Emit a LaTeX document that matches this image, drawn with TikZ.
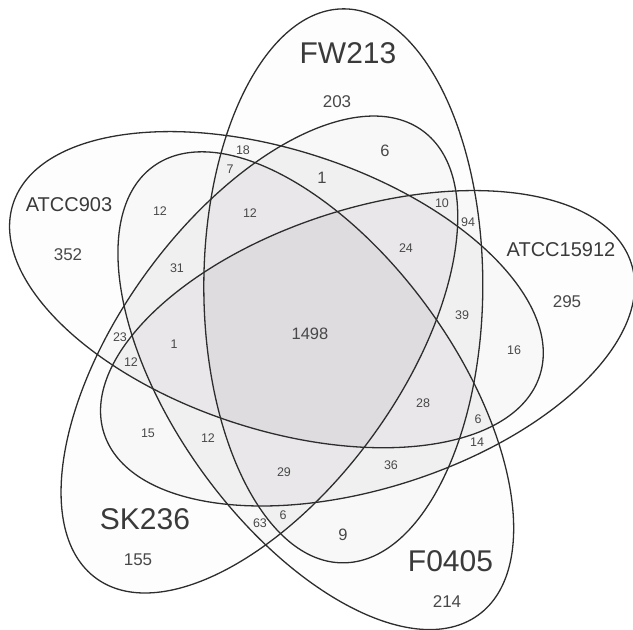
\documentclass[tikz,border=0pt]{standalone}
\usepackage{fontspec}
\setmainfont{Liberation Sans}
\definecolor{linegray}{RGB}{45,45,45}
\definecolor{namegray}{RGB}{58,58,58}
\definecolor{numgray}{RGB}{72,72,72}
\definecolor{tonegray}{RGB}{108,100,110}
% one ellipse of the five-set diagram: centre coordinate, axis angle
\newcommand{\petalclip}[2]{\clip[rotate around={#2:(#1)}] (#1) ellipse [x radius=277, y radius=139.5];}
\newcommand{\pairshade}[4]{%
  \begin{scope}
    \petalclip{#1}{#2}
    \fill[tonegray, fill opacity=0.018, rotate around={#4:(#3)}] (#3) ellipse [x radius=277, y radius=139.5];
  \end{scope}}
\begin{document}
\begin{tikzpicture}[x=1pt, y=1pt,
  outline/.style={draw=linegray, line width=1.3pt},
  single/.style={fill=tonegray, fill opacity=0.010},
  bigname/.style={text=namegray, font=\fontsize{30}{30}\selectfont, inner sep=0pt},
  midname/.style={text=namegray, font=\fontsize{20}{20}\selectfont, inner sep=0pt},
  uniq/.style={text=numgray, font=\fontsize{17}{17}\selectfont, inner sep=0pt},
  mid/.style={text=numgray, font=\fontsize{16.5}{16.5}\selectfont, inner sep=0pt},
  small/.style={text=numgray, font=\fontsize{12.5}{12.5}\selectfont, inner sep=0pt}]
\useasboundingbox (0,0) rectangle (633,630);

% centre of the five-fold arrangement and the five ellipse centres
\coordinate (O) at (312.5,296.2);
\path (O) ++(57.3:57)   coordinate (cFW);
\path (O) ++(129.3:57)  coordinate (cAtA);
\path (O) ++(-14.7:57)  coordinate (cAtB);
\path (O) ++(201.3:57)  coordinate (cSK);
\path (O) ++(273.3:57)  coordinate (cF);

% tones: light tone per set, extra tone for every overlapping pair
\fill[single, rotate around={89.9:(cFW)}]  (cFW)  ellipse [x radius=277, y radius=139.5];
\fill[single, rotate around={161.9:(cAtA)}] (cAtA) ellipse [x radius=277, y radius=139.5];
\fill[single, rotate around={17.9:(cAtB)}] (cAtB) ellipse [x radius=277, y radius=139.5];
\fill[single, rotate around={53.9:(cSK)}]  (cSK)  ellipse [x radius=277, y radius=139.5];
\fill[single, rotate around={125.9:(cF)}]  (cF)   ellipse [x radius=277, y radius=139.5];

\pairshade{cFW}{89.9}{cAtA}{161.9}
\pairshade{cFW}{89.9}{cAtB}{17.9}
\pairshade{cFW}{89.9}{cSK}{53.9}
\pairshade{cFW}{89.9}{cF}{125.9}
\pairshade{cAtA}{161.9}{cAtB}{17.9}
\pairshade{cAtA}{161.9}{cSK}{53.9}
\pairshade{cAtA}{161.9}{cF}{125.9}
\pairshade{cAtB}{17.9}{cSK}{53.9}
\pairshade{cAtB}{17.9}{cF}{125.9}
\pairshade{cSK}{53.9}{cF}{125.9}

% outlines
\draw[outline, rotate around={89.9:(cFW)}]  (cFW)  ellipse [x radius=277, y radius=139.5];
\draw[outline, rotate around={161.9:(cAtA)}] (cAtA) ellipse [x radius=277, y radius=139.5];
\draw[outline, rotate around={17.9:(cAtB)}] (cAtB) ellipse [x radius=277, y radius=139.5];
\draw[outline, rotate around={53.9:(cSK)}]  (cSK)  ellipse [x radius=277, y radius=139.5];
\draw[outline, rotate around={125.9:(cF)}]  (cF)   ellipse [x radius=277, y radius=139.5];

% set names
\node[bigname] (nFW) at (348,577) {FW213};
\node[midname] (nAtA) at (69,425.5) {ATCC903};
\node[midname] (nAtB) at (561,380) {ATCC15912};
\node[bigname] (nSK) at (145,111) {SK236};
\node[bigname] (nF) at (450.5,69) {F0405};

% counts found in one set only
\node[uniq] (uFW) at (337,528) {203};
\node[uniq] (uAtA) at (68,375) {352};
\node[uniq] (uAtB) at (567,328) {295};
\node[uniq] (uSK) at (138,70) {155};
\node[uniq] (uF) at (447,28) {214};

% shared counts
\node[mid] (core) at (310,296) {1498};
\node[mid] (kTop1) at (322,452) {1};
\node[mid] (kTop6) at (385,479) {6};
\node[mid] (kBot9) at (343,95) {9};
\node[small] (k18) at (243,480) {18};
\node[small] (k7) at (230,461) {7};
\node[small] (k12a) at (160,419) {12};
\node[small] (k12b) at (250,417) {12};
\node[small] (k31) at (177,362) {31};
\node[small] (k23) at (120,293) {23};
\node[small] (k12c) at (131,268) {12};
\node[small] (k1) at (174,286) {1};
\node[small] (k15) at (148,197) {15};
\node[small] (k12d) at (208,192) {12};
\node[small] (k29) at (284,158) {29};
\node[small] (k6a) at (283,115) {6};
\node[small] (k63) at (260,107) {63};
\node[small] (k10) at (442,427) {10};
\node[small] (k94) at (468,408) {94};
\node[small] (k24) at (406,382) {24};
\node[small] (k39) at (462,315) {39};
\node[small] (k16) at (514,280) {16};
\node[small] (k28) at (423,227) {28};
\node[small] (k6b) at (478,211) {6};
\node[small] (k14) at (477,188) {14};
\node[small] (k36) at (391,165) {36};
\end{tikzpicture}
\end{document}
